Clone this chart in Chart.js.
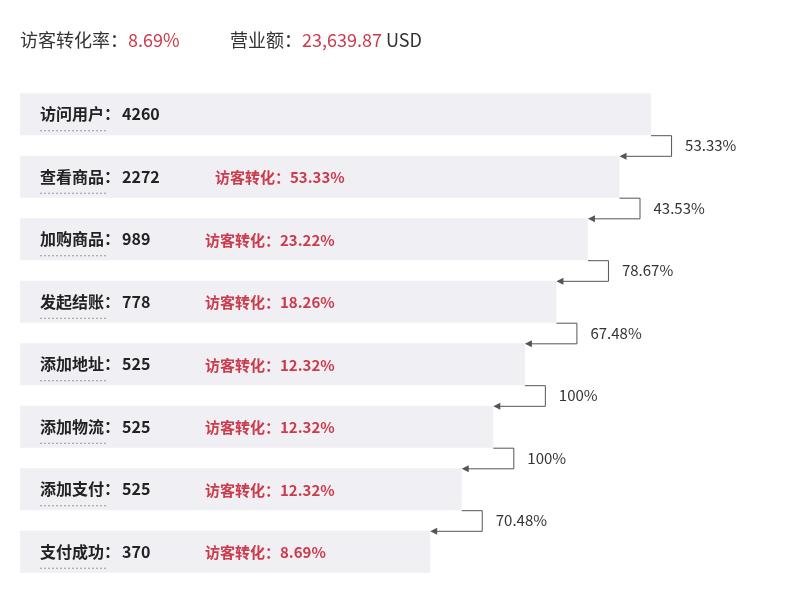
<!DOCTYPE html>
<html><head><meta charset="utf-8">
<script src="https://cdn.jsdelivr.net/npm/chart.js@4"></script>
<style>body{margin:0;background:#fff}#w{width:800px;height:600px}</style>
</head><body><div id="w"><canvas id="c"></canvas></div>
<script>
const stages=["访问用户","查看商品","加购商品","发起结账","添加地址","添加物流","添加支付","支付成功"];
const counts=[4260,2272,989,778,525,525,525,370];
const visitorConv=[null,"53.33%","23.22%","18.26%","12.32%","12.32%","12.32%","8.69%"];
const stepConv=["53.33%","43.53%","78.67%","67.48%","100%","100%","70.48%"];
const funnelLevel=[20,19,18,17,16,15,14,13];
const F='"Noto Sans CJK SC","Noto Sans",sans-serif';
const RED='#cc3b4b';
const overlay={id:'ov',afterDraw(ch){
 const c=ch.ctx,m=ch.getDatasetMeta(0);
 c.save();
 c.textBaseline='middle';
 c.font='18px '+F;c.fillStyle='#333';
 let x=20;c.fillText('访客转化率：',x,40);x+=c.measureText('访客转化率：').width;
 c.fillStyle=RED;c.fillText('8.69%',x,40);
 x=230;c.fillStyle='#333';c.fillText('营业额：',x,40);x+=c.measureText('营业额：').width;
 c.fillStyle=RED;c.fillText('23,639.87',x,40);x+=c.measureText('23,639.87 ').width;
 c.fillStyle='#333';c.fillText('USD',x,40);
 m.data.forEach((b,i)=>{
  const y=b.y;
  c.font='bold 16px '+F;c.fillStyle='#222';
  const lab=stages[i]+'：';
  c.fillText(lab,40,y);const lw=c.measureText(lab).width;
  c.fillText(String(counts[i]),40+lw+2,y);
  c.strokeStyle='#999';c.setLineDash([2,2]);c.lineWidth=1;
  c.beginPath();c.moveTo(40,y+16.5);c.lineTo(40+lw-14,y+16.5);c.stroke();c.setLineDash([]);
  if(visitorConv[i]){c.font='bold 15px '+F;c.fillStyle=RED;
   c.fillText('访客转化：'+visitorConv[i],i==1?215:205,y+1);}
  if(i<m.data.length-1){
   const n=m.data[i+1];const top=b.y+b.height/2, bot=n.y-n.height/2;
   const x1=b.x, x2=n.x, xr=x1+20;
   c.strokeStyle='#555';c.lineWidth=1;c.beginPath();
   c.moveTo(x1,top+0.5);c.lineTo(xr+0.5,top+0.5);c.lineTo(xr+0.5,bot+0.5);c.lineTo(x2+6,bot+0.5);c.stroke();
   c.fillStyle='#555';c.beginPath();c.moveTo(x2,bot+0.5);c.lineTo(x2+7,bot-3);c.lineTo(x2+7,bot+4);c.fill();
   c.font='15px '+F;c.fillStyle='#333';c.fillText(stepConv[i],xr+14,(top+bot)/2);
  }
 });
 c.restore();}};
new Chart(document.getElementById('c'),{type:'bar',
 data:{labels:stages,datasets:[{data:funnelLevel,backgroundColor:'#efeff4',barPercentage:0.67,categoryPercentage:1}]},
 options:{indexAxis:'y',responsive:true,maintainAspectRatio:false,animation:false,
  layout:{padding:{left:20,right:0,top:83,bottom:17}},
  plugins:{legend:{display:false},tooltip:{enabled:false}},
  scales:{x:{display:false,min:0,max:24.72},y:{display:false}}},
 plugins:[overlay]});
</script></body></html>
